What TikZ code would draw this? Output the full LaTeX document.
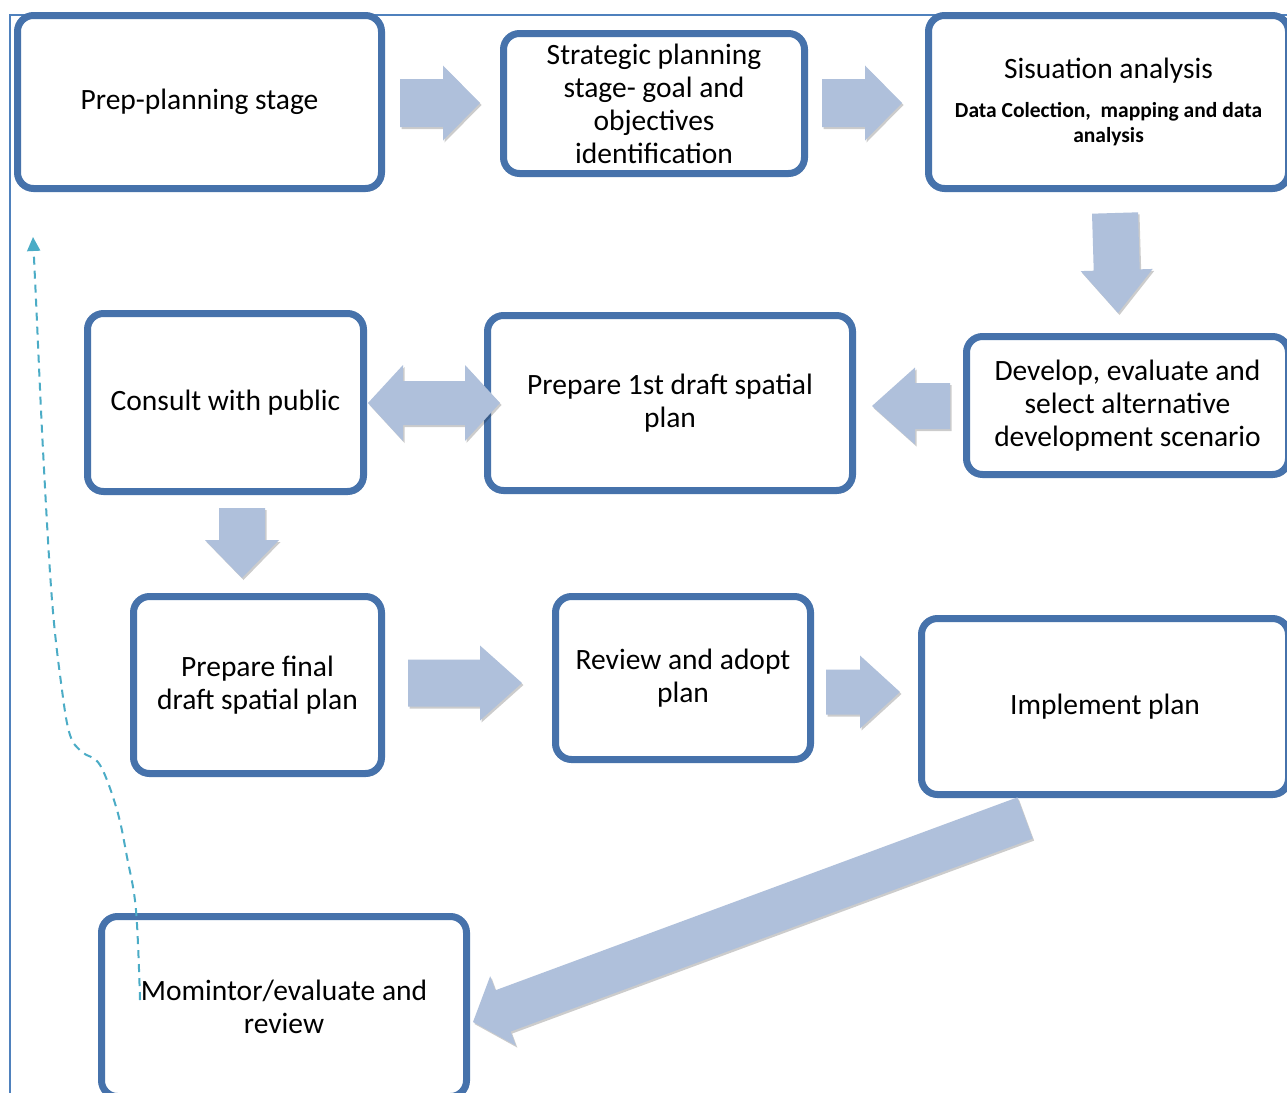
\documentclass[tikz,border=0pt]{standalone}
\usepackage{fontspec}
\setmainfont{Carlito}
\usetikzlibrary{calc,shadows,arrows.meta}
\definecolor{boxblue}{HTML}{4672AB}
\definecolor{arrfill}{HTML}{AFC0DB}
\definecolor{framec}{HTML}{4F81BD}
\definecolor{dashc}{HTML}{4BACC6}
\tikzset{
  stagebox/.style={draw=boxblue, line width=7pt, rounded corners=16pt, fill=white,
    inner sep=0pt, align=center, font=\fontsize{29.5}{33}\selectfont,
    drop shadow={shadow xshift=2pt, shadow yshift=-3pt, opacity=0.25, fill=black}},
  arrshade/.style={fill=arrfill, drop shadow={shadow xshift=1.5pt, shadow yshift=-2pt, opacity=0.2, fill=black}},
  framestyle/.style={draw=framec, line width=1.5pt},
  feedback/.style={draw=dashc, line width=2pt, dash pattern=on 8pt off 6pt, -{Triangle[width=13pt,length=14pt]}}
}
\newcommand\subtxt[1]{{\fontsize{21.5}{25}\selectfont\bfseries #1}}
% #1 start, #2 tip, #3 half shaft, #4 half head, #5 head length
\newcommand\blockarr[5]{%
  \path coordinate (ba-h) at ($(#2)!#5!(#1)$);
  \fill[arrshade] ($(#1)!#3!90:(#2)$) -- ($(ba-h)!#3!90:(#2)$) -- ($(ba-h)!#4!90:(#2)$) -- (#2)
    -- ($(ba-h)!#4!-90:(#2)$) -- ($(ba-h)!#3!-90:(#2)$) -- ($(#1)!#3!-90:(#2)$) -- cycle;}
% #1 tip A, #2 tip B, #3 half shaft, #4 half head, #5 head length
\newcommand\blockdbl[5]{%
  \path coordinate (bd-a) at ($(#1)!#5!(#2)$) coordinate (bd-b) at ($(#2)!#5!(#1)$);
  \fill[arrshade] (#1) -- ($(bd-a)!#4!90:(#2)$) -- ($(bd-a)!#3!90:(#2)$) -- ($(bd-b)!#3!90:(#2)$)
    -- ($(bd-b)!#4!90:(#2)$) -- (#2) -- ($(bd-b)!#4!-90:(#2)$) -- ($(bd-b)!#3!-90:(#2)$)
    -- ($(bd-a)!#3!-90:(#2)$) -- ($(bd-a)!#4!-90:(#2)$) -- cycle;}
\begin{document}
\begin{tikzpicture}[x=1pt, y=-1pt]
\useasboundingbox (0,0) rectangle (1287,1092);
\fill[white] (0,0) rectangle (1287,1092);
\draw[framestyle] (10,1100) -- (10,15) -- (1300,15);

\node[stagebox, minimum width=364pt, minimum height=173pt] (prep) at (199.5,102) {Prep-planning stage};
\node[stagebox, minimum width=301pt, minimum height=140pt] (strat) at (654,103.5) {Strategic planning\\stage- goal and\\objectives\\identification};
\node[stagebox, minimum width=360pt, minimum height=173pt] (sit) at (1108.5,102) {Sisuation analysis\\[6pt]\subtxt{Data Colection,\ \ mapping and data}\\[-8pt]\subtxt{analysis}};
\node[stagebox, minimum width=276pt, minimum height=178pt] (consult) at (225.5,402.5) {Consult with public};
\node[stagebox, minimum width=365pt, minimum height=175pt] (first) at (670,403) {Prepare 1st draft spatial\\plan};
\node[stagebox, minimum width=322pt, minimum height=138pt] (develop) at (1127.5,405.5) {Develop, evaluate and\\select alternative\\development scenario};
\node[stagebox, minimum width=248pt, minimum height=177pt] (final) at (257.5,685) {Prepare final\\draft spatial plan};
\node[stagebox, minimum width=255pt, minimum height=163pt] (review) at (683,678) {Review and adopt\\plan};
\node[stagebox, minimum width=367pt, minimum height=176pt] (impl) at (1105,706.5) {Implement plan};
\node[stagebox, minimum width=365pt, minimum height=180pt] (monitor) at (284,1006.5) {Momintor/evaluate and\\review};

\coordinate (a1s) at (400,103);  \coordinate (a1t) at (480,103);
\coordinate (a2s) at (822,103);  \coordinate (a2t) at (902,103);
\coordinate (a3s) at (1115,213); \coordinate (a3t) at (1118,313);
\coordinate (a4a) at (368,403);  \coordinate (a4b) at (500,403);
\coordinate (a5s) at (950,406);  \coordinate (a5t) at (872,406);
\coordinate (a6s) at (242,508);  \coordinate (a6t) at (242,578);
\coordinate (a7s) at (408,683);  \coordinate (a7t) at (522,683);
\coordinate (a8s) at (826,692);  \coordinate (a8t) at (900,692);
\coordinate (a9s) at (1025,818); \coordinate (a9t) at (473,1022);

\blockarr{a1s}{a1t}{24pt}{37.5pt}{37pt}
\blockarr{a2s}{a2t}{24pt}{37.5pt}{37pt}
\blockarr{a3s}{a3t}{23pt}{36pt}{43pt}
\blockdbl{a4a}{a4b}{22pt}{38pt}{35pt}
\blockarr{a5s}{a5t}{23pt}{38.5pt}{43pt}
\blockarr{a6s}{a6t}{23pt}{37pt}{38pt}
\blockarr{a7s}{a7t}{23.5pt}{37.5pt}{42pt}
\blockarr{a8s}{a8t}{22.5pt}{36.5pt}{40pt}
\blockarr{a9s}{a9t}{22pt}{37pt}{32pt}

\coordinate (fbs) at (140,1000);
\coordinate (fbt) at (33,237);
\draw[feedback] plot[smooth, tension=0.6] coordinates {(fbs) (136,910) (127,857) (117,810) (100,765) (82,752) (70,735) (62,690) (52,600) (43,450) (36,300) (fbt)};
\end{tikzpicture}
\end{document}
